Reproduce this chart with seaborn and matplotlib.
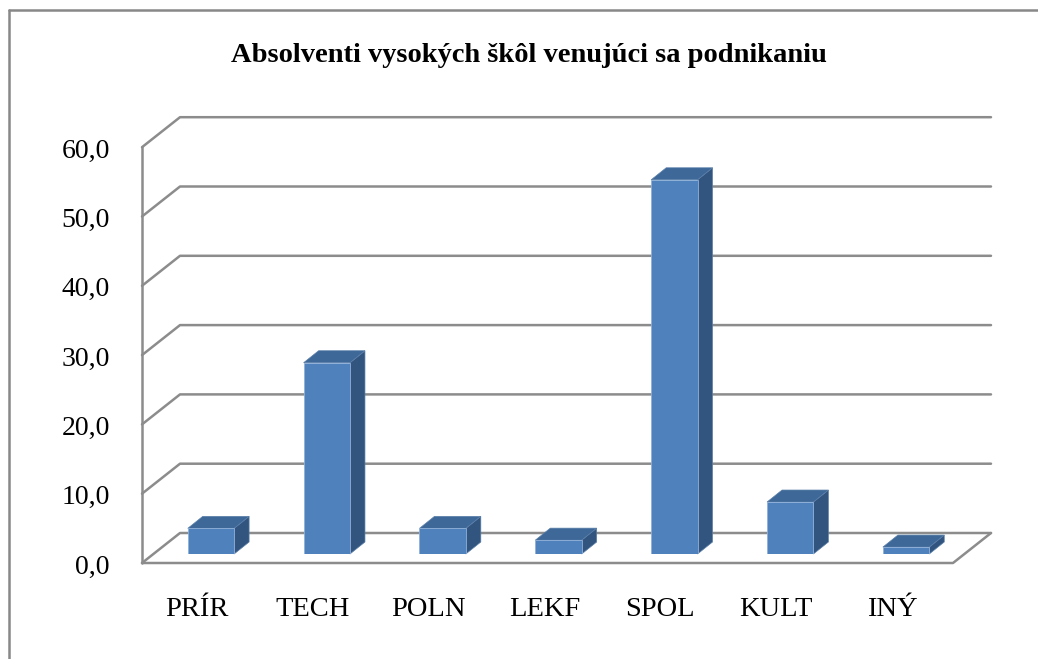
import matplotlib
matplotlib.use("Agg")
import matplotlib.pyplot as plt
import matplotlib.transforms as mtransforms
from matplotlib.patches import Polygon
from matplotlib.lines import Line2D
import seaborn as sns

categories = ["PRÍR", "TECH", "POLN", "LEKF", "SPOL", "KULT", "INÝ"]
values = [3.7, 27.6, 3.7, 2.0, 54.0, 7.5, 1.0]
y_ticks = [0, 10, 20, 30, 40, 50, 60]
y_tick_labels = ["0,0", "10,0", "20,0", "30,0", "40,0", "50,0", "60,0"]
title = "Absolventi vysokých škôl venujúci sa podnikaniu"

front_col = "#4F81BD"
side_col = "#31557F"
top_col = "#3D6898"
grid_col = "#8C8C8C"

sns.set_style("white")
plt.rcParams["font.family"] = ["Liberation Serif", "DejaVu Serif"]

W, H = 1038, 659
fig = plt.figure(figsize=(W / 100, H / 100), dpi=100)
# axes = the plane of the bar front faces
ax = fig.add_axes([153 / W, (H - 554) / H, (964 - 153) / W, (554 - 138.2) / H])

sns.barplot(x=categories, y=values, color=front_col, saturation=1, width=0.4,
            edgecolor="#8FB0D8", linewidth=0.6, zorder=3, ax=ax)
ax.set_xlim(-0.5, len(categories) - 0.5)
ax.set_ylim(0, 60)
ax.axis("off")

ident = mtransforms.IdentityTransform()
td = ax.transData

# depth offsets in display pixels
front_off = (-11, -9)
back_off = (27, 21)
bar_off = (15, 12)


def disp(x, y, off=(0, 0)):
    px, py = td.transform((x, y))
    return (px + off[0], py + off[1])


x0, x1 = ax.get_xlim()
lw = 1.8
# left wall edge
fl0 = disp(x0, 0, front_off)
fl1 = disp(x0, 60, front_off)
ax.add_line(Line2D([fl0[0], fl1[0]], [fl0[1], fl1[1]], color=grid_col, lw=lw,
                   transform=ident, clip_on=False, zorder=1))
# gridlines on left and back wall
for v in y_ticks:
    a = disp(x0, v, front_off)
    b = disp(x0, v, back_off)
    c = disp(x1, v, back_off)
    ax.add_line(Line2D([a[0], b[0], c[0]], [a[1], b[1], c[1]], color=grid_col, lw=lw,
                       transform=ident, clip_on=False, zorder=1))
# floor front and right edge
a = disp(x0, 0, front_off)
b = disp(x1, 0, front_off)
c = disp(x1, 0, back_off)
ax.add_line(Line2D([a[0], b[0], c[0]], [a[1], b[1], c[1]], color=grid_col, lw=lw,
                   transform=ident, clip_on=False, zorder=1))

# 3d sides and tops of bars
for p in ax.patches:
    bx0 = p.get_x()
    bx1 = bx0 + p.get_width()
    h = p.get_height()
    s = [disp(bx1, 0), disp(bx1, h), disp(bx1, h, bar_off), disp(bx1, 0, bar_off)]
    t = [disp(bx0, h), disp(bx1, h), disp(bx1, h, bar_off), disp(bx0, h, bar_off)]
    ax.add_patch(Polygon(s, closed=True, facecolor=side_col, edgecolor="#5A7EA8",
                         lw=0.5, transform=ident, clip_on=False, zorder=2.5))
    ax.add_patch(Polygon(t, closed=True, facecolor=top_col, edgecolor="#5A7EA8",
                         lw=0.5, transform=ident, clip_on=False, zorder=2.5))

# tick labels
ylab_tr = mtransforms.offset_copy(td, fig=fig, x=-43, y=-13, units="dots")
for v, lab in zip(y_ticks, y_tick_labels):
    ax.text(x0, v, lab, transform=ylab_tr, ha="right", va="center",
            fontsize=20, color="black", clip_on=False)
xlab_tr = mtransforms.offset_copy(td, fig=fig, x=-14, y=-56, units="dots")
for i, lab in enumerate(categories):
    ax.text(i, 0, lab, transform=xlab_tr, ha="center", va="center",
            fontsize=20.5, color="black", clip_on=False)

fig.text(529 / W, 1 - 55 / H, title, ha="center", va="center",
         fontsize=20.5, fontweight="bold", color="black")

# outer frame (top and left visible)
fig.add_artist(Line2D([8.5 / W, 8.5 / W], [0, 1 - 10 / H], color="#888888", lw=1.8,
                      transform=fig.transFigure))
fig.add_artist(Line2D([8.5 / W, 1], [1 - 10 / H, 1 - 10 / H], color="#888888", lw=1.8,
                      transform=fig.transFigure))

fig.savefig("out.png", dpi=100)
